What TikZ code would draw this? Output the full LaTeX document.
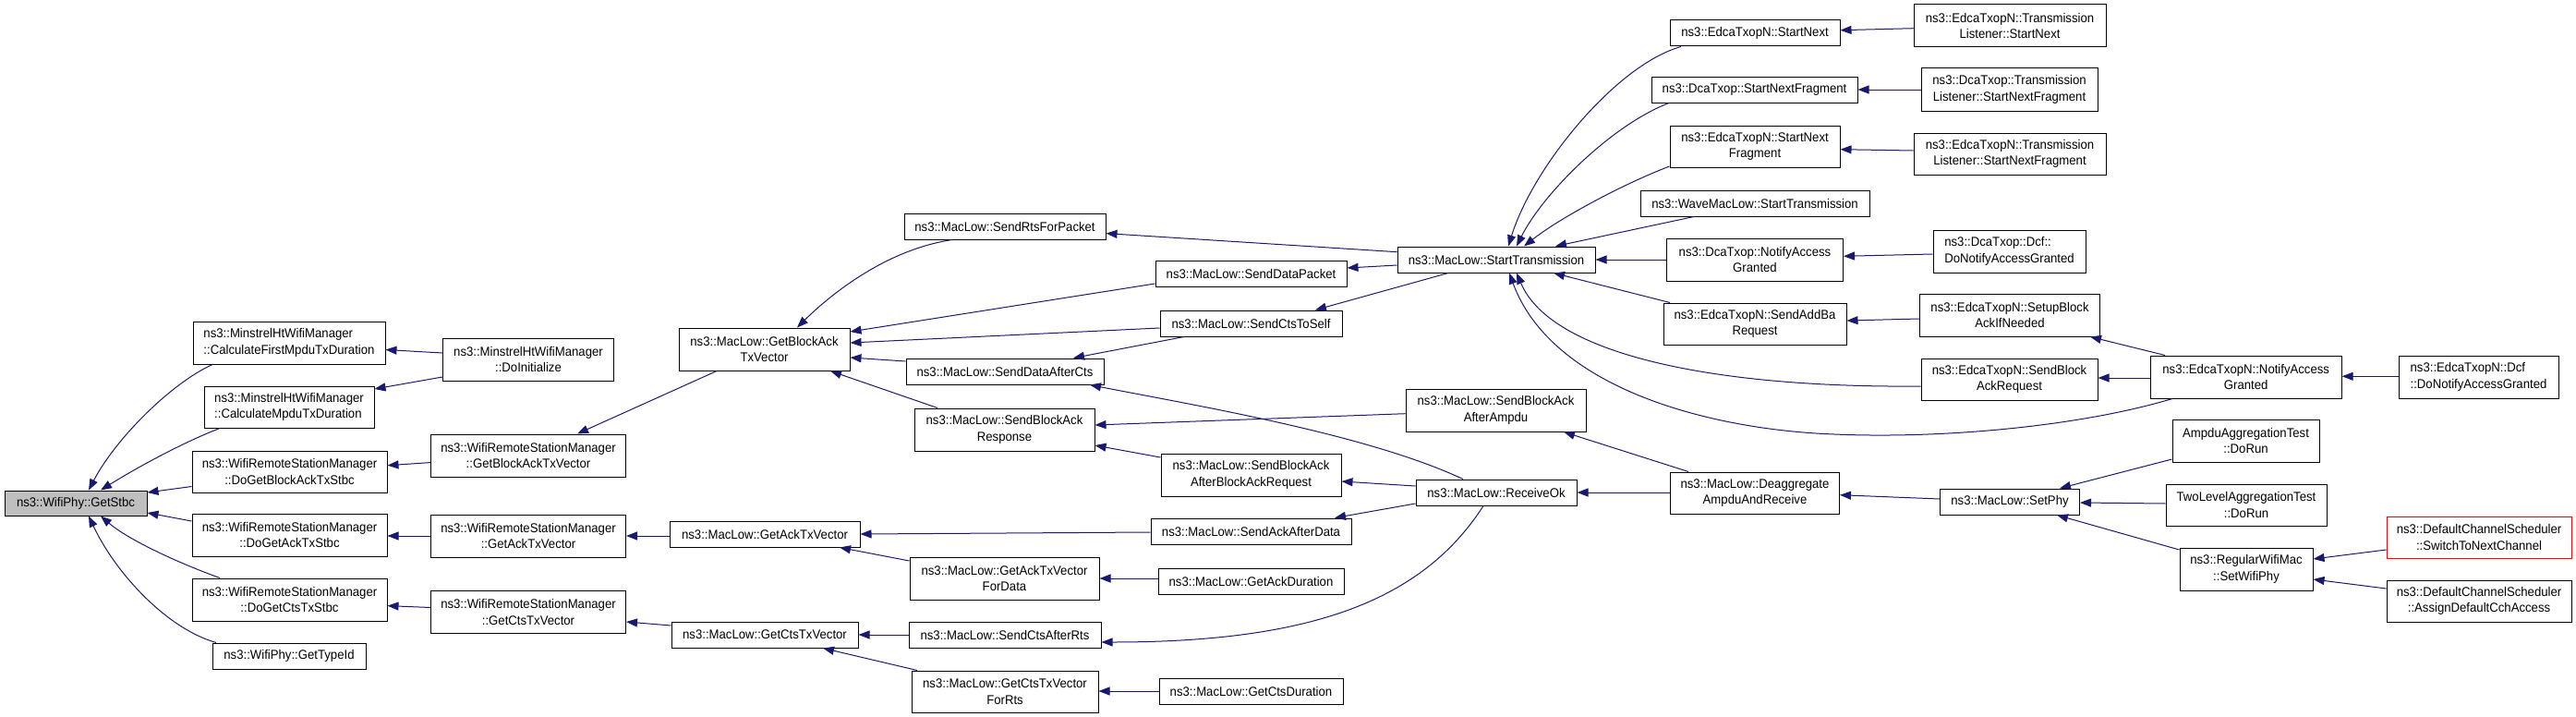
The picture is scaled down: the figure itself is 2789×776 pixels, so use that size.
\documentclass[tikz,border=0pt]{standalone}
\usepackage{fontspec}
\setmainfont{Liberation Sans}[FakeStretch=0.94]
\usetikzlibrary{arrows.meta}
\definecolor{eblue}{HTML}{191970}
\definecolor{stgray}{HTML}{BFBFBF}
\begin{document}
\begin{tikzpicture}[x=1pt,y=-1pt,
  fn/.style={draw=black, line width=1pt, inner sep=0pt, align=center, fill=white,
    font=\fontsize{14}{17.7}\selectfont},
  fnl/.style={fn, align=left},
  edge/.style={draw=eblue, line width=1pt, {Triangle[length=12pt,width=9pt]}-}]
\useasboundingbox (0,0) rectangle (2789,776);
% column 0
\node[fn, fill=stgray, minimum width=154, minimum height=27] (stbc) at (82,544.5) {ns3::WifiPhy::GetStbc};
% column 1
\node[fnl, minimum width=208, minimum height=46] (cfirst) at (313,371) {ns3::MinstrelHtWifiManager\\::CalculateFirstMpduTxDuration};
\node[fnl, minimum width=184, minimum height=45] (cmpdu) at (313,440.5) {ns3::MinstrelHtWifiManager\\::CalculateMpduTxDuration};
\node[fn, minimum width=211, minimum height=45] (dgba) at (313.5,510.5) {ns3::WifiRemoteStationManager\\::DoGetBlockAckTxStbc};
\node[fn, minimum width=211, minimum height=46] (dgack) at (313.5,579) {ns3::WifiRemoteStationManager\\::DoGetAckTxStbc};
\node[fn, minimum width=211, minimum height=46] (dgcts) at (313.5,649) {ns3::WifiRemoteStationManager\\::DoGetCtsTxStbc};
\node[fn, minimum width=166, minimum height=28] (typeid) at (313,710) {ns3::WifiPhy::GetTypeId};
% column 2
\node[fn, minimum width=185, minimum height=46] (doinit) at (572,389) {ns3::MinstrelHtWifiManager\\::DoInitialize};
\node[fn, minimum width=211, minimum height=46] (wgba) at (572,493) {ns3::WifiRemoteStationManager\\::GetBlockAckTxVector};
\node[fn, minimum width=211, minimum height=46] (wgack) at (572,580) {ns3::WifiRemoteStationManager\\::GetAckTxVector};
\node[fn, minimum width=211, minimum height=46] (wgcts) at (572,662.5) {ns3::WifiRemoteStationManager\\::GetCtsTxVector};
% column 3
\node[fn, minimum width=185, minimum height=46] (mgba) at (827.5,378) {ns3::MacLow::GetBlockAck\\TxVector};
\node[fn, minimum width=206, minimum height=28] (mgack) at (828,578) {ns3::MacLow::GetAckTxVector};
\node[fn, minimum width=202, minimum height=28] (mgcts) at (828,687) {ns3::MacLow::GetCtsTxVector};
% column 4
\node[fn, minimum width=218, minimum height=28] (srts) at (1088,245) {ns3::MacLow::SendRtsForPacket};
\node[fn, minimum width=214, minimum height=28] (sdac) at (1088,402) {ns3::MacLow::SendDataAfterCts};
\node[fn, minimum width=195, minimum height=46] (sbar) at (1087.5,465) {ns3::MacLow::SendBlockAck\\Response};
\node[fn, minimum width=205, minimum height=46] (gackfd) at (1087.5,626) {ns3::MacLow::GetAckTxVector\\ForData};
\node[fn, minimum width=208, minimum height=28] (scar) at (1088,687) {ns3::MacLow::SendCtsAfterRts};
\node[fn, minimum width=202, minimum height=45] (gctsfr) at (1088,748.5) {ns3::MacLow::GetCtsTxVector\\ForRts};
% column 5
\node[fn, minimum width=207, minimum height=28] (sdp) at (1354.5,296) {ns3::MacLow::SendDataPacket};
\node[fn, minimum width=197, minimum height=28] (sctss) at (1354.5,350) {ns3::MacLow::SendCtsToSelf};
\node[fn, minimum width=195, minimum height=46] (sbaabar) at (1354.5,514) {ns3::MacLow::SendBlockAck\\AfterBlockAckRequest};
\node[fn, minimum width=217, minimum height=28] (sackad) at (1354.5,575) {ns3::MacLow::SendAckAfterData};
\node[fn, minimum width=201, minimum height=28] (gackd) at (1354.5,629) {ns3::MacLow::GetAckDuration};
\node[fn, minimum width=199, minimum height=28] (gctsd) at (1354.5,748) {ns3::MacLow::GetCtsDuration};
% column 6
\node[fn, minimum width=214, minimum height=28] (st) at (1620,281) {ns3::MacLow::StartTransmission};
\node[fn, minimum width=195, minimum height=46] (sbaaa) at (1619.5,444) {ns3::MacLow::SendBlockAck\\AfterAmpdu};
\node[fn, minimum width=174, minimum height=28] (rok) at (1620,533) {ns3::MacLow::ReceiveOk};
% column 7
\node[fn, minimum width=184, minimum height=28] (esn) at (1900,36) {ns3::EdcaTxopN::StartNext};
\node[fn, minimum width=223, minimum height=28] (dsnf) at (1899.5,97) {ns3::DcaTxop::StartNextFragment};
\node[fn, minimum width=184, minimum height=45] (esnf) at (1900,158.5) {ns3::EdcaTxopN::StartNext\\Fragment};
\node[fn, minimum width=248, minimum height=28] (wst) at (1900,220) {ns3::WaveMacLow::StartTransmission};
\node[fn, minimum width=191, minimum height=46] (dnag) at (1900,281) {ns3::DcaTxop::NotifyAccess\\Granted};
\node[fn, minimum width=198, minimum height=45] (saddba) at (1900,350.5) {ns3::EdcaTxopN::SendAddBa\\Request};
\node[fn, minimum width=183, minimum height=45] (dear) at (1900,533.5) {ns3::MacLow::Deaggregate\\AmpduAndReceive};
% column 8
\node[fn, minimum width=208, minimum height=46] (tlsn) at (2176,28) {ns3::EdcaTxopN::Transmission\\Listener::StartNext};
\node[fn, minimum width=191, minimum height=46] (dtlsnf) at (2175.5,97) {ns3::DcaTxop::Transmission\\Listener::StartNextFragment};
\node[fn, minimum width=208, minimum height=45] (etlsnf) at (2176,166.5) {ns3::EdcaTxopN::Transmission\\Listener::StartNextFragment};
\node[fnl, minimum width=165, minimum height=46] (ddcf) at (2175.5,272) {ns3::DcaTxop::Dcf::\\DoNotifyAccessGranted};
\node[fn, minimum width=195, minimum height=46] (sbai) at (2176,341) {ns3::EdcaTxopN::SetupBlock\\AckIfNeeded};
\node[fn, minimum width=191, minimum height=45] (sbareq) at (2175.5,410.5) {ns3::EdcaTxopN::SendBlock\\AckRequest};
\node[fn, minimum width=151, minimum height=28] (setphy) at (2176,543) {ns3::MacLow::SetPhy};
% column 9
\node[fn, minimum width=207, minimum height=46] (enag) at (2431.7,408) {ns3::EdcaTxopN::NotifyAccess\\Granted};
\node[fn, minimum width=159, minimum height=46] (ampdu) at (2431.5,477) {AmpduAggregationTest\\::DoRun};
\node[fn, minimum width=174, minimum height=45] (twol) at (2432,546.5) {TwoLevelAggregationTest\\::DoRun};
\node[fn, minimum width=144, minimum height=46] (swp) at (2432,616) {ns3::RegularWifiMac\\::SetWifiPhy};
% column 10
\node[fnl, minimum width=173, minimum height=46] (edcf) at (2683.5,408) {ns3::EdcaTxopN::Dcf\\::DoNotifyAccessGranted};
\node[fn, draw=red, minimum width=200, minimum height=45] (stnc) at (2684,581.5) {ns3::DefaultChannelScheduler\\::SwitchToNextChannel};
\node[fn, minimum width=200, minimum height=45] (adca) at (2684,650.5) {ns3::DefaultChannelScheduler\\::AssignDefaultCchAccess};

% edges into GetStbc
\draw[edge] (stbc.north -| 96,0) .. controls (125,475) and (185,415) .. (cfirst.south -| 230,0);
\draw[edge] (stbc.north -| 109,0) .. controls (150,505) and (200,478) .. (cmpdu.south -| 238,0);
\draw[edge] (stbc.east |- 0,533) -- (dgba.west |- 0,526.5);
\draw[edge] (stbc.east |- 0,555) -- (dgack.west |- 0,564);
\draw[edge] (stbc.south -| 109,0) .. controls (140,585) and (195,610) .. (dgcts.north -| 238,0);
\draw[edge] (stbc.south -| 96,0) .. controls (125,620) and (180,680) .. (typeid.north -| 234,0);
% column 2 -> 1
\draw[edge] (cfirst.east |- 0,378.5) -- (doinit.west |- 0,382);
\draw[edge] (cmpdu.east |- 0,421) -- (doinit.west |- 0,408);
\draw[edge] (dgba.east |- 0,503.7) -- (wgba.west |- 0,500.6);
\draw[edge] (dgack.east |- 0,580) -- (wgack.west |- 0,580);
\draw[edge] (dgcts.east |- 0,655.6) -- (wgcts.west |- 0,657.5);
% column 3 -> 2
\draw[edge] (wgba.north -| 625,0) -- (mgba.south -| 776,0);
\draw[edge] (wgack.east |- 0,580) -- (mgack.west |- 0,580);
\draw[edge] (wgcts.east |- 0,673) -- (mgcts.west |- 0,677);
% column 4/5 -> 3
\draw[edge] (mgba.north -| 863,0) .. controls (900,318) and (960,270) .. (srts.south -| 1031,0);
\draw[edge] (mgba.east |- 0,359) -- (sdp.west |- 0,307);
\draw[edge] (mgba.east |- 0,371) -- (sctss.west |- 0,355);
\draw[edge] (mgba.east |- 0,387) -- (sdac.west |- 0,391);
\draw[edge] (mgba.south -| 899,0) -- (sbar.north -| 1015,0);
\draw[edge] (mgack.east |- 0,578) -- (sackad.west |- 0,576);
\draw[edge] (mgack.south -| 909,0) -- (gackfd.west |- 0,607);
\draw[edge] (gackfd.east |- 0,626) -- (gackd.west |- 0,626);
\draw[edge] (mgcts.east |- 0,687) -- (scar.west |- 0,687);
\draw[edge] (mgcts.south -| 891,0) -- (gctsfr.north -| 993,0);
\draw[edge] (gctsfr.east |- 0,748) -- (gctsd.west |- 0,748);
% into column 4/5
\draw[edge] (sdac.north -| 1162,0) -- (sctss.south -| 1282,0);
\draw[edge] (srts.east |- 0,252.6) -- (st.west |- 0,272.7);
\draw[edge] (sdp.east |- 0,290) -- (st.west |- 0,287);
\draw[edge] (sctss.north -| 1424,0) -- (st.south -| 1568,0);
\draw[edge] (sdac.south -| 1180,0) .. controls (1300,440) and (1480,470) .. (rok.north -| 1584,0);
\draw[edge] (sbar.east |- 0,460) -- (sbaaa.west |- 0,447.7);
\draw[edge] (sbar.east |- 0,482) -- (sbaabar.west |- 0,495);
\draw[edge] (sbaabar.east |- 0,521) -- (rok.west |- 0,526);
\draw[edge] (sackad.north -| 1445,0) -- (rok.west |- 0,545);
\draw[edge] (scar.east |- 0,695) .. controls (1420,695) and (1540,650) .. (rok.south -| 1606,0);
% into StartTransmission
\draw[edge] (st.north -| 1633,0) .. controls (1660,180) and (1750,70) .. (esn.south -| 1820,0);
\draw[edge] (st.north -| 1642,0) .. controls (1670,210) and (1745,135) .. (dsnf.south -| 1807,0);
\draw[edge] (st.north -| 1650,0) .. controls (1690,235) and (1760,198) .. (esnf.west |- 0,180);
\draw[edge] (st.north -| 1684,0) -- (wst.south -| 1834,0);
\draw[edge] (st.east) -- (dnag.west |- 0,281);
\draw[edge] (st.south -| 1682,0) -- (saddba.north -| 1808,0);
\draw[edge] (st.south -| 1642,0) .. controls (1680,385) and (1860,420) .. (sbareq.west |- 0,418);
\draw[edge] (st.south -| 1634,0) .. controls (1680,420) and (1850,465) .. (1986,470) .. controls (2100,475) and (2250,462) .. (enag.south -| 2352,0);
% column 8 -> 7
\draw[edge] (esn.east |- 0,32.7) -- (tlsn.west |- 0,30.7);
\draw[edge] (dsnf.east |- 0,97) -- (dtlsnf.west |- 0,97);
\draw[edge] (esnf.east |- 0,161.7) -- (etlsnf.west |- 0,163);
\draw[edge] (dnag.east |- 0,277.3) -- (ddcf.west |- 0,275);
\draw[edge] (saddba.east |- 0,347) -- (sbai.west |- 0,345);
\draw[edge] (rok.east |- 0,533) -- (dear.west |- 0,533);
\draw[edge] (sbaaa.south -| 1693,0) -- (dear.north -| 1828,0);
\draw[edge] (dear.east |- 0,535.7) -- (setphy.west |- 0,540);
% column 9 -> 8
\draw[edge] (sbai.south -| 2263,0) -- (enag.north -| 2344,0);
\draw[edge] (sbareq.east |- 0,409) -- (enag.west |- 0,409);
\draw[edge] (setphy.north -| 2230,0) -- (ampdu.west |- 0,497);
\draw[edge] (setphy.east |- 0,544) -- (twol.west |- 0,545);
\draw[edge] (setphy.south -| 2227,0) -- (swp.west |- 0,595);
% column 10 -> 9
\draw[edge] (enag.east |- 0,407.3) -- (edcf.west |- 0,407.3);
\draw[edge] (swp.east |- 0,605) -- (stnc.west |- 0,595);
\draw[edge] (swp.east |- 0,627) -- (adca.west |- 0,637);
\end{tikzpicture}
\end{document}
